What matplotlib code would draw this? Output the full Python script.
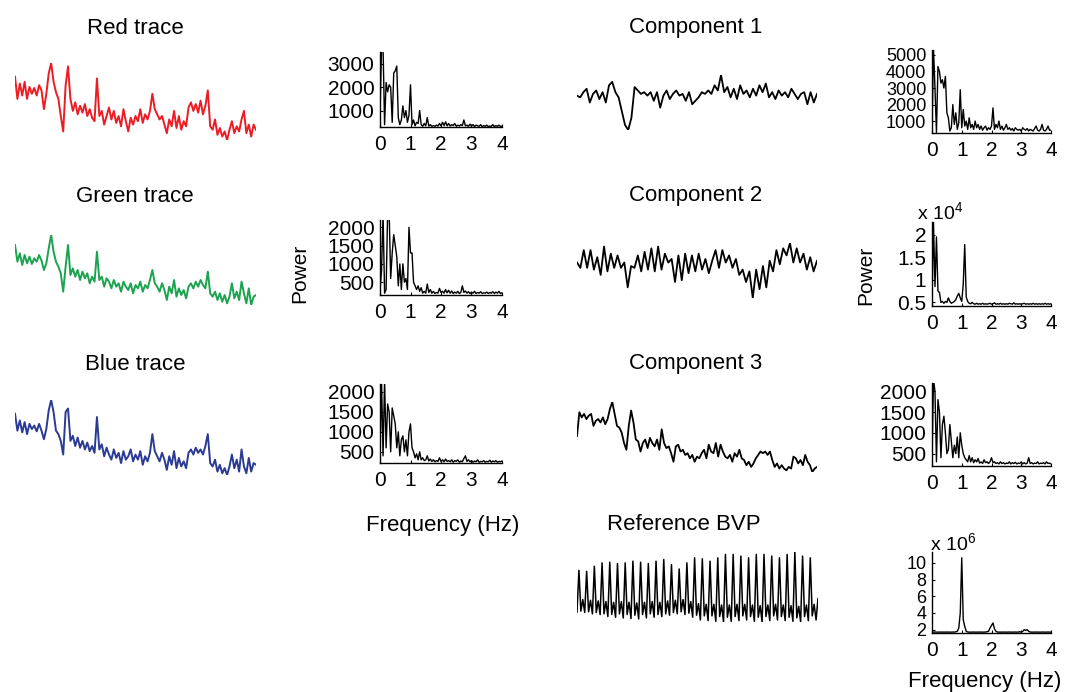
import numpy as np
import matplotlib
matplotlib.use("Agg")
import matplotlib.pyplot as plt

plt.rcParams['font.family'] = ['Liberation Sans', 'DejaVu Sans']
plt.rcParams['mathtext.default'] = 'regular'

W, H = 1065, 692

# raw colour traces (arbitrary units, higher = brighter)
red_trace = [215, 150, 195, 160, 200, 150, 185, 165, 182, 160, 190, 175, 120, 165, 225, 255, 200, 170, 150, 100,
             55, 190, 245, 150, 115, 140, 105, 130, 110, 135, 100, 120, 95, 85, 210, 100, 115, 75, 100, 125,
             90, 115, 80, 100, 70, 120, 85, 55, 95, 75, 100, 85, 120, 80, 105, 90, 115, 165, 120, 105,
             90, 100, 75, 50, 90, 70, 115, 65, 100, 60, 85, 70, 125, 140, 115, 135, 110, 145, 105, 130,
             175, 70, 60, 90, 45, 65, 40, 55, 30, 60, 85, 50, 70, 55, 90, 115, 50, 75, 40, 75, 60]
green_trace = [225, 175, 200, 165, 195, 170, 190, 168, 185, 175, 195, 178, 150, 170, 215, 255, 205, 175, 160, 140,
               85, 160, 225, 135, 155, 130, 150, 120, 145, 125, 140, 110, 130, 115, 205, 120, 130, 100, 125, 115,
               95, 120, 100, 110, 85, 115, 100, 90, 110, 80, 105, 95, 115, 85, 105, 95, 120, 150, 110, 100,
               85, 110, 90, 60, 100, 80, 120, 70, 95, 75, 90, 65, 100, 110, 95, 115, 100, 120, 105, 95,
               145, 80, 70, 85, 60, 80, 55, 75, 50, 70, 110, 65, 85, 60, 115, 80, 50, 95, 45, 70, 75]
blue_trace = [230, 180, 210, 175, 205, 170, 200, 185, 195, 178, 200, 180, 155, 185, 240, 270, 235, 180, 170, 150,
              110, 235, 245, 150, 165, 135, 160, 130, 150, 125, 145, 120, 135, 115, 220, 125, 140, 105, 130, 110,
              95, 125, 100, 115, 85, 120, 95, 105, 125, 90, 110, 95, 120, 80, 105, 90, 115, 170, 120, 105,
              90, 115, 95, 65, 105, 80, 120, 70, 100, 75, 90, 70, 115, 125, 110, 130, 115, 125, 110, 135,
              170, 85, 75, 95, 60, 80, 55, 70, 50, 75, 110, 70, 95, 60, 125, 75, 55, 100, 60, 85, 80]

# ICA components and reference pulse
comp1 = [145, 140, 155, 165, 125, 150, 160, 135, 155, 125, 175, 185, 155, 140, 100, 60, 45, 80, 170, 160,
         150, 155, 145, 155, 130, 155, 110, 145, 160, 135, 150, 160, 145, 150, 130, 155, 120, 130, 140, 155,
         150, 160, 150, 175, 160, 205, 155, 170, 140, 165, 135, 175, 150, 160, 140, 165, 145, 175, 155, 180,
         140, 155, 135, 160, 145, 155, 140, 165, 150, 135, 150, 155, 120, 155, 125, 150]
comp2 = [120, 105, 155, 105, 155, 100, 135, 85, 165, 95, 145, 105, 140, 105, 120, 50, 110, 105, 140, 95,
         150, 100, 160, 95, 165, 100, 145, 120, 130, 65, 140, 70, 145, 90, 140, 95, 145, 100, 130, 90,
         125, 155, 105, 155, 120, 140, 105, 130, 85, 100, 65, 95, 20, 100, 45, 110, 50, 125, 95, 155,
         115, 160, 140, 175, 120, 160, 120, 145, 100, 135, 95, 125]
comp3 = [120, 190, 175, 185, 170, 180, 185, 150, 165, 170, 160, 175, 155, 170, 200, 220, 185, 150, 145, 130,
         100, 80, 150, 195, 160, 110, 105, 75, 100, 110, 85, 115, 100, 90, 110, 80, 140, 100, 85, 90,
         70, 45, 90, 95, 75, 80, 65, 70, 55, 65, 45, 60, 55, 70, 80, 55, 95, 75, 70, 100,
         60, 95, 75, 60, 55, 65, 45, 70, 60, 80, 55, 50, 35, 45, 30, 40, 55, 65, 75, 70,
         75, 65, 75, 50, 30, 40, 25, 35, 25, 20, 30, 25, 60, 55, 40, 50, 35, 65, 45, 35,
         15, 25, 30]
bvp = [35,
       158, 38, 72, 34, 155, 36, 70, 30, 170, 34, 68, 28, 180, 30, 66, 22,
       182, 28, 64, 20, 178, 30, 66, 18, 180, 28, 64, 16, 185, 26, 62, 15,
       182, 28, 64, 18, 178, 30, 66, 20, 185, 28, 64, 22, 190, 30, 68, 26,
       175, 34, 70, 30, 162, 36, 72, 28, 180, 32, 66, 20, 195, 26, 60, 12,
       192, 24, 58, 10, 185, 24, 58, 8, 195, 22, 56, 6, 205, 20, 56, 8,
       205, 22, 58, 10, 200, 24, 58, 12, 195, 22, 56, 8, 205, 20, 54, 6,
       205, 22, 56, 10, 200, 24, 58, 12, 195, 22, 56, 10, 205, 20, 54, 8,
       212, 18, 52, 6, 200, 22, 56, 10, 195, 24, 58, 12,
       75]

# power spectra, 0-4 Hz
spec_red = [800, 3700, 3700, 400, 2200, 1800, 2100, 2000, 500, 2600, 2700, 2900, 700, 400, 600, 1200, 700, 1000, 500, 800,
            2100, 400, 600, 350, 500, 450, 1000, 400, 330, 450, 350, 700, 340, 400, 330, 360, 330, 380, 340, 450,
            350, 500, 360, 520, 350, 450, 340, 400, 360, 450, 330, 380, 340, 400, 360, 600, 350, 380, 330, 420,
            340, 400, 320, 380, 350, 330, 400, 320, 360, 330, 380, 320, 340, 330, 400, 320, 360, 330, 380, 320, 340]
spec_green = [300, 800, 2400, 200, 300, 2400, 2400, 600, 1300, 1800, 1500, 1200, 400, 1000, 300, 1000, 500, 600, 300, 2000,
              1300, 1300, 500, 400, 300, 400, 250, 350, 200, 250, 200, 450, 220, 300, 200, 250, 190, 220, 200, 330,
              220, 250, 200, 300, 210, 280, 200, 260, 190, 230, 200, 250, 190, 220, 400, 220, 260, 200, 240, 190,
              230, 200, 250, 190, 220, 200, 240, 190, 210, 200, 230, 190, 220, 200, 240, 190, 230, 200, 250, 190, 210]
spec_blue = [300, 2300, 400, 2300, 600, 1700, 1500, 500, 1600, 1400, 1200, 600, 1000, 400, 800, 900, 500, 800, 400, 1000,
             1200, 600, 500, 350, 450, 300, 500, 300, 350, 280, 300, 400, 270, 320, 260, 300, 250, 280, 260, 350,
             260, 300, 250, 320, 260, 280, 250, 300, 240, 280, 260, 300, 240, 270, 250, 330, 400, 260, 300, 250,
             280, 240, 270, 250, 300, 240, 260, 250, 280, 240, 260, 250, 290, 240, 270, 250, 280, 240, 260, 250, 270]
spec_c1 = [400, 5400, 3000, 300, 4300, 4000, 3300, 3500, 3000, 3700, 1500, 1200, 400, 600, 2000, 800, 1500, 500, 900, 2900,
           600, 1700, 700, 1000, 500, 1200, 600, 800, 500, 1000, 600, 800, 500, 700, 450, 600, 700, 450, 600, 500,
           700, 1800, 500, 800, 600, 1000, 500, 700, 450, 600, 800, 500, 600, 450, 550, 400, 600, 500, 450, 500,
           400, 600, 500, 450, 550, 400, 500, 450, 400, 550, 700, 450, 400, 500, 800, 450, 400, 500, 700, 450, 450]
spec_c2 = [0.55, 2.28, 0.85, 1.95, 0.75, 0.72, 0.5, 0.52, 0.48, 0.52, 0.5, 0.6, 0.52, 0.48, 0.5, 0.52, 0.56, 0.64, 0.7, 0.6,
           0.52, 0.9, 1.78, 0.62, 0.52, 0.48, 0.47, 0.5, 0.47, 0.46, 0.48, 0.46, 0.47, 0.46, 0.48, 0.46, 0.47, 0.46, 0.47, 0.48,
           0.46, 0.47, 0.49, 0.46, 0.47, 0.46, 0.48, 0.46, 0.47, 0.46, 0.47, 0.46, 0.48, 0.47, 0.46, 0.49, 0.46, 0.47, 0.46, 0.47,
           0.46, 0.47, 0.48, 0.46, 0.47, 0.46, 0.47, 0.46, 0.48, 0.46, 0.47, 0.46, 0.47, 0.46, 0.47, 0.46, 0.48, 0.46, 0.47, 0.46, 0.47]
spec_c3 = [300, 2300, 2000, 300, 1800, 1500, 400, 1200, 1400, 1000, 500, 600, 1200, 800, 400, 700, 500, 900, 400, 1000,
           700, 500, 400, 350, 300, 450, 300, 400, 280, 350, 300, 380, 270, 300, 260, 350, 280, 300, 260, 300,
           400, 280, 300, 260, 280, 250, 300, 260, 280, 250, 270, 260, 300, 250, 280, 260, 290, 250, 270, 260,
           300, 250, 280, 250, 270, 400, 260, 280, 250, 270, 260, 300, 250, 270, 260, 280, 250, 300, 260, 270, 250]
spec_bvp = [1.75, 1.7, 1.72, 1.7, 1.71, 1.7, 1.72, 1.7, 1.71, 1.7, 1.72, 1.7, 1.71, 1.7, 1.72, 1.7, 1.75, 1.8, 2.2, 4.0,
            10.6, 3.2, 2.4, 1.8, 1.72, 1.7, 1.71, 1.7, 1.72, 1.7, 1.71, 1.7, 1.72, 1.7, 1.71, 1.7, 1.72, 1.75, 1.8, 2.2,
            2.5, 2.8, 2.1, 1.8, 1.72, 1.7, 1.71, 1.7, 1.72, 1.7, 1.71, 1.7, 1.72, 1.7, 1.71, 1.7, 1.72, 1.7, 1.71, 1.75,
            1.7, 1.8, 2.0, 1.9, 2.0, 1.8, 1.72, 1.7, 1.71, 1.7, 1.72, 1.7, 1.71, 1.7, 1.72, 1.7, 1.71, 1.7, 1.72, 1.7, 1.71]


def px_axes(fig, x0, y0, x1, y1):
    return fig.add_axes([x0 / W, 1 - y1 / H, (x1 - x0) / W, (y1 - y0) / H])


def label(fig, x, y, s, size=16, **kw):
    fig.text(x / W, 1 - y / H, s, ha='center', va='center', fontsize=size, **kw)


def trace(fig, box, values, color, lw=1.4):
    ax = px_axes(fig, *box)
    ax.plot(values, color=color, lw=lw, solid_joinstyle='round')
    ax.set_xlim(0, len(values) - 1)
    ax.set_ylim(min(values), max(values))
    ax.axis('off')
    return ax


def spectrum(fig, box, values, ylim, yticks, yticklabels=None, ysize=15):
    ax = px_axes(fig, *box)
    freq = np.linspace(0, 4, len(values))
    ax.plot(freq, values, color='black', lw=1.0)
    ax.set_xlim(0, 4)
    ax.set_ylim(*ylim)
    ax.set_xticks([0, 1, 2, 3, 4])
    ax.set_yticks(yticks)
    if yticklabels is not None:
        ax.set_yticklabels(yticklabels)
    for s in ['top', 'right']:
        ax.spines[s].set_visible(False)
    for s in ['left', 'bottom']:
        ax.spines[s].set_linewidth(1.0)
    ax.tick_params(direction='in', length=2, width=0.8)
    ax.tick_params(axis='y', pad=4, labelsize=ysize)
    ax.tick_params(axis='x', pad=6, labelsize=15)
    return ax


fig = plt.figure(figsize=(W / 100, H / 100), dpi=100)

# left half: colour traces
trace(fig, (15, 63, 256, 140), red_trace, '#ED1C24')
trace(fig, (15, 235, 256, 305), green_trace, '#1BA34F')
trace(fig, (15, 400, 256, 475), blue_trace, '#2B3A94')
label(fig, 135, 28, 'Red trace')
label(fig, 135, 196, 'Green trace')
label(fig, 135, 364, 'Blue trace')

spectrum(fig, (380, 52, 502, 127), spec_red, (300, 3500), [1000, 2000, 3000])
spectrum(fig, (380, 220, 502, 295), spec_green, (150, 2200), [500, 1000, 1500, 2000])
spectrum(fig, (380, 384, 502, 463), spec_blue, (220, 2200), [500, 1000, 1500, 2000])
label(fig, 443, 525, 'Frequency (Hz)')
label(fig, 300, 273, 'Power', size=15, rotation=90)

# right half: separated sources
trace(fig, (577, 75, 817, 130), comp1, 'black', 1.3)
trace(fig, (577, 243, 817, 298), comp2, 'black', 1.3)
trace(fig, (577, 402, 817, 472), comp3, 'black', 1.3)
trace(fig, (577, 552, 818, 622), bvp, 'black', 1.1)
label(fig, 696, 28, 'Component 1')
label(fig, 696, 196, 'Component 2')
label(fig, 696, 364, 'Component 3')
label(fig, 684, 525, 'Reference BVP')

# crowded y axes get slightly smaller labels
spectrum(fig, (932, 50, 1051, 133), spec_c1, (280, 5300), [1000, 2000, 3000, 4000, 5000], ysize=13)
spectrum(fig, (932, 222, 1051, 306), spec_c2, (0.42, 2.28), [0.5, 1, 1.5, 2], ['0.5', '1', '1.5', '2'])
spectrum(fig, (932, 383, 1051, 466), spec_c3, (200, 2200), [500, 1000, 1500, 2000])
spectrum(fig, (932, 552, 1051, 633), spec_bvp, (1.6, 11.3), [2, 4, 6, 8, 10], ysize=13)
fig.text(917 / W, 1 - 212 / H, r'x 10$^4$', ha='left', va='center', fontsize=14)
fig.text(930 / W, 1 - 543 / H, r'x 10$^6$', ha='left', va='center', fontsize=14)
label(fig, 985, 681, 'Frequency (Hz)')
label(fig, 866, 275, 'Power', size=15, rotation=90)

fig.savefig('out.png', dpi=100)
